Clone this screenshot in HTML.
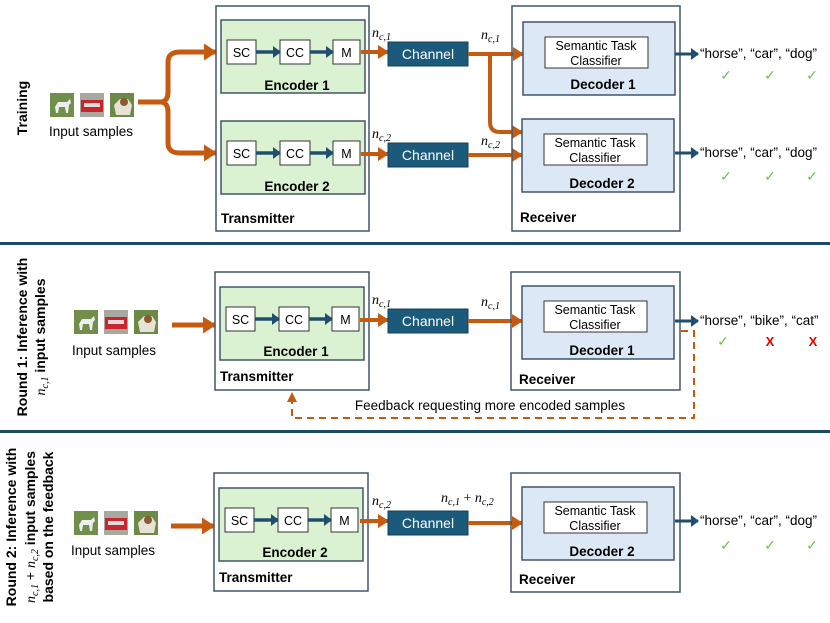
<!DOCTYPE html>
<html><head><meta charset="utf-8"><style>
body{margin:0;background:#fff}
svg{display:block;font-family:"Liberation Sans",sans-serif}
.b{font-weight:bold}
.m{font-family:"Liberation Serif",serif;font-style:italic}
</style></head><body>
<svg width="830" height="623" viewBox="0 0 830 623" xmlns="http://www.w3.org/2000/svg">
<defs>
<marker id="oa" markerWidth="13" markerHeight="17" refX="12" refY="8.5" orient="auto" markerUnits="userSpaceOnUse"><path d="M0,0 L13,8.5 L0,17 Z" fill="#c55a11"/></marker>
<marker id="os" markerWidth="11" markerHeight="14" refX="10" refY="7" orient="auto" markerUnits="userSpaceOnUse"><path d="M0,0 L11,7 L0,14 Z" fill="#c55a11"/></marker>
<marker id="ba" markerWidth="8" markerHeight="12" refX="7" refY="6" orient="auto" markerUnits="userSpaceOnUse"><path d="M0,0 L8,6 L0,12 Z" fill="#1f4e6e"/></marker>
<g id="imgs">
<rect x="0" y="0" width="24" height="24" fill="#6f8f4a"/><path d="M5,14 L8,9 L17,9 L20,6 L21,10 L19,12 L18,20 L16,20 L15,14 L9,14 L8,20 L6,20Z" fill="#eee"/>
<rect x="30" y="0" width="24" height="24" fill="#a8a8a0"/><rect x="31" y="7" width="22" height="12" fill="#c8262a"/><rect x="34" y="10" width="16" height="4" fill="#ddd"/>
<rect x="60" y="0" width="24" height="24" fill="#6a8a45"/><path d="M64,12 L70,6 L78,6 L82,12 L80,22 L66,22Z" fill="#e8e2d6"/><circle cx="74" cy="9" r="4" fill="#8a5a30"/>
</g>
<g id="enc">
<rect x="0" y="0" width="144" height="73" fill="#dbf2d2" stroke="#40566a" stroke-width="1.5"/>
<rect x="6" y="20" width="29" height="24" fill="#fff" stroke="#333"/>
<rect x="59" y="20" width="30" height="24" fill="#fff" stroke="#333"/>
<rect x="112" y="20" width="27" height="24" fill="#fff" stroke="#333"/>
<text x="20.5" y="37" font-size="12.5" text-anchor="middle">SC</text>
<text x="74" y="37" font-size="12.5" text-anchor="middle">CC</text>
<text x="125.5" y="37" font-size="12.5" text-anchor="middle">M</text>
<line x1="35" y1="32" x2="59" y2="32" stroke="#1f4e6e" stroke-width="3.5" marker-end="url(#ba)"/>
<line x1="89" y1="32" x2="112" y2="32" stroke="#1f4e6e" stroke-width="3.5" marker-end="url(#ba)"/>
</g>
<g id="dec">
<rect x="0" y="0" width="152" height="73" fill="#dce8f5" stroke="#40566a" stroke-width="1.5"/>
<rect x="22" y="15" width="103" height="31" fill="#fff" stroke="#333"/>
<text x="73" y="28" font-size="12.5" text-anchor="middle">Semantic Task</text>
<text x="73" y="43" font-size="12.5" text-anchor="middle">Classifier</text>
</g>
<g id="chan"><rect x="0" y="0" width="80" height="24" fill="#1b5a7a" stroke="#134058"/><text x="40" y="17" font-size="14" fill="#fff" text-anchor="middle">Channel</text></g>
</defs>

<!-- ===== Training ===== -->
<text class="b" font-size="14" transform="translate(27,108) rotate(-90)" text-anchor="middle">Training</text>
<use href="#imgs" x="50" y="93"/>
<text x="91" y="136" font-size="13.5" text-anchor="middle">Input samples</text>
<path d="M138,102 L160,102 Q168,102 168,92 L168,62 Q168,52 180,52 L216,52" fill="none" stroke="#c55a11" stroke-width="5" marker-end="url(#oa)"/>
<path d="M160,102 Q168,102 168,112 L168,143 Q168,153 180,153 L216,153" fill="none" stroke="#c55a11" stroke-width="5" marker-end="url(#oa)"/>
<rect x="216" y="6" width="153" height="225" fill="none" stroke="#40566a" stroke-width="1.5"/>
<use href="#enc" x="221" y="20"/>
<text class="b" x="297" y="90" font-size="13.5" text-anchor="middle">Encoder 1</text>
<use href="#enc" x="221" y="121"/>
<text class="b" x="297" y="191" font-size="13.5" text-anchor="middle">Encoder 2</text>
<text class="b" x="221" y="223" font-size="13.5">Transmitter</text>
<line x1="361" y1="52" x2="388" y2="52" stroke="#c55a11" stroke-width="4" marker-end="url(#os)"/>
<line x1="361" y1="154" x2="388" y2="154" stroke="#c55a11" stroke-width="4" marker-end="url(#os)"/>
<text class="m" x="372" y="37" font-size="14">n<tspan font-size="10" dy="3">c,1</tspan></text>
<text class="m" x="372" y="138" font-size="14">n<tspan font-size="10" dy="3">c,2</tspan></text>
<use href="#chan" x="388" y="42"/>
<use href="#chan" x="388" y="143"/>
<path d="M468,54 L523,54" stroke="#c55a11" stroke-width="4" fill="none" marker-end="url(#os)"/>
<path d="M490,54 L490,122 Q490,132 500,132 L522,132" stroke="#c55a11" stroke-width="4" fill="none" marker-end="url(#os)"/>
<line x1="468" y1="155" x2="522" y2="155" stroke="#c55a11" stroke-width="4" marker-end="url(#os)"/>
<text class="m" x="481" y="39" font-size="14">n<tspan font-size="10" dy="3">c,1</tspan></text>
<text class="m" x="481" y="145" font-size="14">n<tspan font-size="10" dy="3">c,2</tspan></text>
<rect x="512" y="6" width="168" height="225" fill="none" stroke="#40566a" stroke-width="1.5"/>
<use href="#dec" x="523" y="22"/>
<text class="b" x="603" y="89" font-size="13.5" text-anchor="middle">Decoder 1</text>
<use href="#dec" x="522" y="119"/>
<text class="b" x="602" y="188" font-size="13.5" text-anchor="middle">Decoder 2</text>
<text class="b" x="520" y="222" font-size="13.5">Receiver</text>
<line x1="675" y1="54" x2="698" y2="54" stroke="#1f4e6e" stroke-width="3" marker-end="url(#ba)"/>
<line x1="675" y1="153" x2="698" y2="153" stroke="#1f4e6e" stroke-width="3" marker-end="url(#ba)"/>
<text x="700" y="58" font-size="13.5">“horse”, “car”, “dog”</text>
<text x="700" y="157" font-size="13.5">“horse”, “car”, “dog”</text>
<g fill="#6cc24a" font-size="14" text-anchor="middle"><text x="726" y="80">✓</text><text x="770" y="80">✓</text><text x="812" y="80">✓</text>
<text x="726" y="181">✓</text><text x="770" y="181">✓</text><text x="812" y="181">✓</text></g>

<rect x="0" y="242" width="830" height="3" fill="#1d4a66"/>

<!-- ===== Round 1 ===== -->
<text class="b" font-size="14" transform="translate(27,337) rotate(-90)" text-anchor="middle">Round 1: Inference with</text>
<text class="b" font-size="14" transform="translate(45,337) rotate(-90)" text-anchor="middle"><tspan class="m" font-weight="normal">n<tspan font-size="10" dy="3">c,1</tspan></tspan><tspan dy="-3"> input samples</tspan></text>
<use href="#imgs" x="74" y="310"/>
<text x="114" y="355" font-size="13.5" text-anchor="middle">Input samples</text>
<line x1="172" y1="325" x2="215" y2="325" stroke="#c55a11" stroke-width="5" marker-end="url(#oa)"/>
<rect x="215" y="272" width="154" height="118" fill="none" stroke="#40566a" stroke-width="1.5"/>
<use href="#enc" x="220" y="287"/>
<text class="b" x="296" y="356" font-size="13.5" text-anchor="middle">Encoder 1</text>
<text class="b" x="220" y="381" font-size="13.5">Transmitter</text>
<line x1="360" y1="320" x2="388" y2="320" stroke="#c55a11" stroke-width="4" marker-end="url(#os)"/>
<text class="m" x="372" y="304" font-size="14">n<tspan font-size="10" dy="3">c,1</tspan></text>
<use href="#chan" x="388" y="309"/>
<line x1="468" y1="321" x2="522" y2="321" stroke="#c55a11" stroke-width="4" marker-end="url(#os)"/>
<text class="m" x="481" y="306" font-size="14">n<tspan font-size="10" dy="3">c,1</tspan></text>
<rect x="511" y="272" width="169" height="118" fill="none" stroke="#40566a" stroke-width="1.5"/>
<use href="#dec" x="522" y="286"/>
<text class="b" x="602" y="355" font-size="13.5" text-anchor="middle">Decoder 1</text>
<text class="b" x="519" y="384" font-size="13.5">Receiver</text>
<line x1="675" y1="321" x2="698" y2="321" stroke="#1f4e6e" stroke-width="3" marker-end="url(#ba)"/>
<text x="700" y="325" font-size="13.5">“horse”, “bike”, “cat”</text>
<text x="723" y="346" font-size="14" fill="#6cc24a" text-anchor="middle">✓</text>
<text class="b" x="770" y="346" font-size="13" fill="#e00000" text-anchor="middle">X</text>
<text class="b" x="813" y="346" font-size="13" fill="#e00000" text-anchor="middle">X</text>
<path d="M681,331 L694,331 L694,418 L292,418 L292,400" fill="none" stroke="#c55a11" stroke-width="2" stroke-dasharray="7,5"/>
<path d="M287,402 L292,392 L297,402Z" fill="#c55a11"/>
<text x="490" y="410" font-size="13.5" text-anchor="middle">Feedback requesting more encoded samples</text>

<rect x="0" y="430" width="830" height="3" fill="#1d4a66"/>

<!-- ===== Round 2 ===== -->
<text class="b" font-size="14" transform="translate(16,527) rotate(-90)" text-anchor="middle">Round 2: Inference with</text>
<text class="b" font-size="14" transform="translate(35,527) rotate(-90)" text-anchor="middle"><tspan class="m" font-weight="normal">n<tspan font-size="10" dy="3">c,1</tspan></tspan><tspan dy="-3" font-weight="normal"> + </tspan><tspan class="m" font-weight="normal">n<tspan font-size="10" dy="3">c,2</tspan></tspan><tspan dy="-3"> input samples</tspan></text>
<text class="b" font-size="14" transform="translate(53,527) rotate(-90)" text-anchor="middle">based on the feedback</text>
<use href="#imgs" x="74" y="511"/>
<text x="113" y="555" font-size="13.5" text-anchor="middle">Input samples</text>
<line x1="171" y1="526" x2="214" y2="526" stroke="#c55a11" stroke-width="5" marker-end="url(#oa)"/>
<rect x="214" y="473" width="154" height="118" fill="none" stroke="#40566a" stroke-width="1.5"/>
<use href="#enc" x="219" y="488"/>
<text class="b" x="295" y="557" font-size="13.5" text-anchor="middle">Encoder 2</text>
<text class="b" x="219" y="582" font-size="13.5">Transmitter</text>
<line x1="360" y1="521" x2="388" y2="521" stroke="#c55a11" stroke-width="4" marker-end="url(#os)"/>
<text class="m" x="372" y="505" font-size="14">n<tspan font-size="10" dy="3">c,2</tspan></text>
<use href="#chan" x="388" y="511"/>
<line x1="468" y1="523" x2="522" y2="523" stroke="#c55a11" stroke-width="4" marker-end="url(#os)"/>
<text class="m" x="441" y="502" font-size="14">n<tspan font-size="10" dy="3">c,1</tspan><tspan dy="-3" font-style="normal"> + </tspan>n<tspan font-size="10" dy="3">c,2</tspan></text>
<rect x="511" y="473" width="169" height="119" fill="none" stroke="#40566a" stroke-width="1.5"/>
<use href="#dec" x="522" y="487"/>
<text class="b" x="602" y="556" font-size="13.5" text-anchor="middle">Decoder 2</text>
<text class="b" x="519" y="584" font-size="13.5">Receiver</text>
<line x1="675" y1="521" x2="698" y2="521" stroke="#1f4e6e" stroke-width="3" marker-end="url(#ba)"/>
<text x="700" y="525" font-size="13.5">“horse”, “car”, “dog”</text>
<g fill="#6cc24a" font-size="14" text-anchor="middle"><text x="726" y="550">✓</text><text x="770" y="550">✓</text><text x="812" y="550">✓</text></g>
</svg>
</body></html>
